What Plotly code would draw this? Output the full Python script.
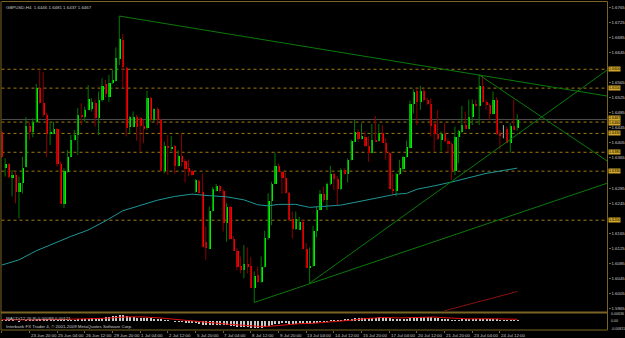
import plotly.graph_objects as go

W, H = 625, 338

# ---------------- data (GBPUSD H4) ----------------
opens = [1.6435,1.6340,1.6349,1.6314,1.6320,1.6276,1.6300,1.6342,1.6452,1.6435,
         1.6461,1.6552,1.6511,1.6479,1.6429,1.6430,1.6442,1.6351,1.6245,1.6329,
         1.6370,1.6414,1.6426,1.6479,1.6476,1.6494,1.6495,1.6511,1.6472,1.6519,
         1.6561,1.6527,1.6565,1.6570,1.6629,1.6680,1.6605,1.6448,1.6448,1.6474,
         1.6473,1.6450,1.6446,1.6525,1.6466,1.6497,1.6466,1.6333,1.6399,1.6392,
         1.6397,1.6344,1.6371,1.6357,1.6339,1.6331,1.6276,1.6305,1.6276,1.6143,
         1.6126,1.6227,1.6280,1.6291,1.6280,1.6194,1.6236,1.6152,1.6121,1.6079,
         1.6070,1.6086,1.6079,1.6022,1.6055,1.6037,1.6077,1.6154,1.6251,1.6298,
         1.6346,1.6329,1.6314,1.6273,1.6205,1.6179,1.6176,1.6196,1.6126,1.6075,
         1.6079,1.6174,1.6229,1.6271,1.6254,1.6298,1.6324,1.6311,1.6285,1.6335,
         1.6324,1.6360,1.6408,1.6435,1.6417,1.6423,1.6397,1.6379,1.6414,1.6411,
         1.6432,1.6407,1.6379,1.6285,1.6280,1.6323,1.6338,1.6368,1.6393,1.6508,
         1.6545,1.6514,1.6545,1.6519,1.6508,1.6457,1.6430,1.6414,1.6429,1.6411,
         1.6404,1.6333,1.6422,1.6435,1.6454,1.6444,1.6476,1.6510,1.6503,1.6558,
         1.6514,1.6507,1.6483,1.6519,1.6430,1.6426,1.6444,1.6406,1.6452,1.6446]
highs = [1.6439,1.6364,1.6351,1.6333,1.6329,1.6316,1.6368,1.6473,1.6461,1.6470,
         1.6561,1.6600,1.6592,1.6485,1.6457,1.6461,1.6444,1.6355,1.6338,1.6386,
         1.6426,1.6439,1.6497,1.6510,1.6501,1.6558,1.6523,1.6519,1.6541,1.6576,
         1.6572,1.6585,1.6598,1.6658,1.6741,1.6693,1.6607,1.6476,1.6488,1.6479,
         1.6474,1.6466,1.6543,1.6527,1.6497,1.6499,1.6468,1.6408,1.6426,1.6423,
         1.6399,1.6386,1.6429,1.6362,1.6361,1.6335,1.6309,1.6307,1.6324,1.6183,
         1.6236,1.6289,1.6296,1.6293,1.6283,1.6245,1.6238,1.6157,1.6126,1.6104,
         1.6134,1.6128,1.6102,1.6064,1.6077,1.6104,1.6172,1.6271,1.6302,1.6379,
         1.6351,1.6331,1.6326,1.6275,1.6223,1.6223,1.6209,1.6201,1.6139,1.6128,
         1.6185,1.6236,1.6280,1.6289,1.6300,1.6344,1.6326,1.6317,1.6338,1.6338,
         1.6364,1.6414,1.6466,1.6441,1.6457,1.6435,1.6422,1.6455,1.6476,1.6455,
         1.6452,1.6417,1.6382,1.6324,1.6326,1.6360,1.6370,1.6411,1.6517,1.6547,
         1.6549,1.6556,1.6549,1.6524,1.6523,1.6461,1.6492,1.6435,1.6458,1.6417,
         1.6406,1.6448,1.6439,1.6503,1.6488,1.6520,1.6520,1.6519,1.6585,1.6582,
         1.6519,1.6510,1.6541,1.6526,1.6439,1.6452,1.6448,1.6457,1.6520,1.6481]
lows = [1.6364,1.6316,1.6311,1.6263,1.6245,1.6205,1.6271,1.6340,1.6413,1.6420,
        1.6458,1.6509,1.6474,1.6368,1.6399,1.6428,1.6342,1.6243,1.6232,1.6326,
        1.6368,1.6411,1.6373,1.6452,1.6461,1.6492,1.6488,1.6448,1.6426,1.6514,
        1.6526,1.6514,1.6561,1.6567,1.6611,1.6549,1.6422,1.6430,1.6446,1.6411,
        1.6382,1.6404,1.6439,1.6461,1.6461,1.6452,1.6330,1.6324,1.6320,1.6384,
        1.6323,1.6342,1.6342,1.6300,1.6316,1.6318,1.6273,1.6271,1.6128,1.6095,
        1.6123,1.6223,1.6276,1.6273,1.6170,1.6143,1.6148,1.6119,1.6068,1.6059,
        1.6046,1.6059,1.6020,1.5982,1.6035,1.6034,1.6075,1.6148,1.6187,1.6296,
        1.6327,1.6270,1.6271,1.6199,1.6152,1.6174,1.6174,1.6123,1.6073,1.6033,
        1.6077,1.6155,1.6227,1.6249,1.6227,1.6293,1.6280,1.6240,1.6280,1.6320,
        1.6300,1.6358,1.6407,1.6408,1.6414,1.6395,1.6355,1.6377,1.6408,1.6408,
        1.6404,1.6360,1.6282,1.6267,1.6263,1.6320,1.6329,1.6366,1.6391,1.6483,
        1.6452,1.6492,1.6514,1.6505,1.6422,1.6382,1.6413,1.6384,1.6408,1.6377,
        1.6307,1.6320,1.6351,1.6432,1.6441,1.6441,1.6452,1.6501,1.6452,1.6511,
        1.6492,1.6466,1.6481,1.6426,1.6388,1.6417,1.6404,1.6379,1.6439,1.6437]
closes = [1.6368,1.6349,1.6316,1.6320,1.6276,1.6300,1.6340,1.6452,1.6435,1.6461,
          1.6552,1.6511,1.6479,1.6430,1.6435,1.6442,1.6351,1.6245,1.6331,1.6370,
          1.6414,1.6426,1.6479,1.6476,1.6494,1.6523,1.6514,1.6472,1.6519,1.6558,
          1.6536,1.6565,1.6572,1.6632,1.6682,1.6607,1.6446,1.6474,1.6474,1.6448,
          1.6450,1.6444,1.6526,1.6466,1.6495,1.6466,1.6333,1.6399,1.6393,1.6395,
          1.6344,1.6371,1.6355,1.6338,1.6329,1.6320,1.6307,1.6273,1.6130,1.6128,
          1.6227,1.6285,1.6291,1.6278,1.6194,1.6236,1.6152,1.6121,1.6077,1.6070,
          1.6086,1.6077,1.6022,1.6053,1.6037,1.6077,1.6155,1.6251,1.6298,1.6346,
          1.6329,1.6314,1.6273,1.6202,1.6179,1.6205,1.6196,1.6126,1.6075,1.6081,
          1.6174,1.6229,1.6270,1.6254,1.6298,1.6323,1.6311,1.6285,1.6335,1.6324,
          1.6361,1.6410,1.6435,1.6417,1.6424,1.6397,1.6379,1.6414,1.6411,1.6432,
          1.6407,1.6379,1.6285,1.6280,1.6324,1.6340,1.6368,1.6395,1.6510,1.6541,
          1.6514,1.6545,1.6519,1.6510,1.6452,1.6429,1.6417,1.6429,1.6411,1.6404,
          1.6333,1.6423,1.6437,1.6454,1.6444,1.6476,1.6510,1.6503,1.6558,1.6514,
          1.6507,1.6483,1.6519,1.6430,1.6426,1.6426,1.6406,1.6452,1.6441,1.6467]

# moving average (read at selected bars)
ma_bars = [0,5,10,15,20,25,30,35,40,45,50,55,60,65,70,74,77,80,85,89,92,98,103,110,114,117,120,125,130,140,149]
ma_vals = [1.6081,1.6095,1.6119,1.6139,1.6157,1.6174,1.6198,1.6225,1.6238,1.6253,1.6263,1.6269,1.6265,1.6262,1.6254,
           1.6241,1.6238,1.6242,1.6242,1.6234,1.6236,1.6240,1.6249,1.6263,1.6269,1.6271,1.6282,1.6291,1.6301,1.6324,1.6338]

# MACD histogram and signal
macd_hist = [0.0006,0.0005,0.0003,0.0002,0.0000,-0.0002,0.0000,0.0005,0.0008,0.0010,
             0.0015,0.0020,0.0022,0.0022,0.0020,0.0020,0.0016,0.0010,0.0007,0.0006,
             0.0008,0.0010,0.0015,0.0018,0.0020,0.0025,0.0028,0.0028,0.0030,0.0035,
             0.0038,0.0042,0.0046,0.0052,0.0060,0.0060,0.0050,0.0042,0.0038,0.0034,
             0.0030,0.0026,0.0028,0.0026,0.0023,0.0020,0.0012,0.0008,0.0004,0.0000,
             -0.0004,-0.0006,-0.0008,-0.0012,-0.0016,-0.0020,-0.0022,-0.0025,-0.0035,-0.0042,
             -0.0044,-0.0042,-0.0040,-0.0038,-0.0042,-0.0042,-0.0046,-0.0050,-0.0056,-0.0060,
             -0.0060,-0.0062,-0.0068,-0.0070,-0.0070,-0.0066,-0.0060,-0.0050,-0.0040,-0.0030,
             -0.0026,-0.0022,-0.0022,-0.0026,-0.0028,-0.0026,-0.0024,-0.0026,-0.0030,-0.0030,
             -0.0024,-0.0016,-0.0010,-0.0006,-0.0002,0.0003,0.0006,0.0006,0.0010,0.0012,
             0.0016,0.0022,0.0028,0.0030,0.0032,0.0032,0.0032,0.0034,0.0034,0.0036,
             0.0035,0.0033,0.0026,0.0020,0.0018,0.0018,0.0020,0.0022,0.0032,0.0040,
             0.0042,0.0044,0.0044,0.0042,0.0036,0.0030,0.0026,0.0022,0.0018,0.0014,
             0.0006,0.0008,0.0008,0.0012,0.0012,0.0014,0.0018,0.0018,0.0024,0.0024,
             0.0022,0.0020,0.0022,0.0014,0.0010,0.0008,0.0006,0.0008,0.0008,0.0010]
sig_bars = [0,10,20,30,36,40,45,50,55,60,65,70,75,78,82,86,90,95,100,105,110,115,120,125,130,135,140,145,149]
sig_vals = [0.0008,0.0006,0.0013,0.0022,0.0036,0.0036,0.0028,0.0012,-0.0005,-0.0025,-0.0036,-0.0048,-0.0060,-0.0056,
            -0.0042,-0.0032,-0.0028,-0.0016,0.0000,0.0018,0.0030,0.0026,0.0030,0.0034,0.0024,0.0016,0.0018,0.0016,0.0012]
macd_axis_labels = ["0.00636", "0.00", "-0.00815"]
macd_axis_vals = [0.0063, 0.0, -0.0082]

hlines = [1.6600, 1.6550, 1.6460, 1.6430, 1.6380, 1.6330, 1.6200]
bid_price = 1.6467

trendlines = [  # (bar0, price0, bar1, price1)
    (34, 1.6741, 175, 1.6529),
    (138, 1.6585, 175, 1.6357),
    (89, 1.6033, 175, 1.6598),
    (73, 1.5982, 175, 1.6298),
]
red_line = (128, 1.5960, 149, 1.6011)

price_ticks = [round(1.5965 + 0.004 * k, 4) for k in range(21)]
time_bars = [0, 8, 16, 24, 32, 40, 48, 56, 64, 72, 80, 88, 96, 104, 112, 120, 128, 136, 144]
time_labels = ["22 Jun 2009", "23 Jun 20:00", "25 Jun 04:00", "26 Jun 12:00", "29 Jun 20:00",
               "1 Jul 04:00", "2 Jul 12:00", "5 Jul 20:00", "7 Jul 04:00", "8 Jul 12:00",
               "9 Jul 20:00", "13 Jul 04:00", "14 Jul 12:00", "15 Jul 20:00", "17 Jul 04:00",
               "20 Jul 12:00", "21 Jul 20:00", "23 Jul 04:00", "24 Jul 12:00"]

# ---------------- styling ----------------
BG = "#000000"
FRAME = "#7A6424"
TXT = "#C8C8C8"
UP_BODY, UP_WICK = "#00F000", "#007A00"
DN_BODY, DN_WICK = "#F80000", "#8C0000"
TREND = "#0A7A0A"
MA_COL = "#1E9696"
HL_COL = "#A07A10"
BOX_COL = "#D2A82A"
FONT = "Liberation Sans"
FS = 4.4
PRICE_PER_PX = 0.000265

def px_x(p):
    return p / W

def px_y(p):
    return 1 - p / H

fig = go.Figure()

n = len(opens)
idx = list(range(n))

# wicks
for up, col in ((True, UP_WICK), (False, DN_WICK)):
    xs, ys = [], []
    for i in idx:
        if (closes[i] > opens[i]) == up and closes[i] != opens[i]:
            xs += [i, i, None]
            ys += [lows[i], highs[i], None]
    fig.add_trace(go.Scatter(x=xs, y=ys, mode="lines", line=dict(color=col, width=1),
                             hoverinfo="skip", showlegend=False))
# doji
xs, ys = [], []
for i in idx:
    if closes[i] == opens[i]:
        xs += [i, i, None]
        ys += [lows[i], highs[i], None]
fig.add_trace(go.Scatter(x=xs, y=ys, mode="lines", line=dict(color="#B0B0B0", width=1),
                         hoverinfo="skip", showlegend=False))

# bodies
MINB = 0.00012
for up, col in ((True, UP_BODY), (False, DN_BODY)):
    bx, bb, bh = [], [], []
    for i in idx:
        if closes[i] == opens[i]:
            continue
        if (closes[i] > opens[i]) == up:
            lo = min(opens[i], closes[i])
            hgt = max(abs(closes[i] - opens[i]), MINB)
            bx.append(i); bb.append(lo); bh.append(hgt)
    fig.add_trace(go.Bar(x=bx, y=bh, base=bb, width=0.62, marker=dict(color=col, line=dict(width=0)),
                         hoverinfo="skip", showlegend=False))

# moving average
fig.add_trace(go.Scatter(x=ma_bars, y=ma_vals, mode="lines", line=dict(color=MA_COL, width=1),
                         hoverinfo="skip", showlegend=False))

# trendlines
for (b0, p0, b1, p1) in trendlines:
    fig.add_trace(go.Scatter(x=[b0, b1], y=[p0, p1], mode="lines", line=dict(color=TREND, width=1),
                             hoverinfo="skip", showlegend=False))
fig.add_trace(go.Scatter(x=[red_line[0], red_line[2]], y=[red_line[1], red_line[3]], mode="lines",
                         line=dict(color="#8C1010", width=1), hoverinfo="skip", showlegend=False))

# MACD
fig.add_trace(go.Bar(x=idx, y=macd_hist, width=0.3, marker=dict(color="#C8C8C8", line=dict(width=0)),
                     xaxis="x2", yaxis="y2", hoverinfo="skip", showlegend=False))
fig.add_trace(go.Scatter(x=sig_bars, y=sig_vals, mode="lines", line=dict(color="#E01010", width=1),
                         xaxis="x2", yaxis="y2", hoverinfo="skip", showlegend=False))

XL, XR = 1.5, 607.5
MAIN_T, MAIN_B = 2.5, 311.5
MACD_T, MACD_B = 313.5, 329.5
xrange = [(XL - 1.67) / 3.46, (XR - 1.67) / 3.46]
yrange = [1.6765 - (MAIN_B - 7) * PRICE_PER_PX, 1.6765 - (MAIN_T - 7) * PRICE_PER_PX]

shapes = []
for hp in hlines:
    shapes.append(dict(type="line", xref="paper", yref="y", x0=px_x(XL), x1=px_x(XR), y0=hp, y1=hp,
                       line=dict(color=HL_COL, width=1, dash="dot"), layer="below"))
shapes.append(dict(type="line", xref="paper", yref="y", x0=px_x(XL), x1=px_x(XR), y0=bid_price, y1=bid_price,
                   line=dict(color="#505050", width=1), layer="below"))
# frame
for (x0, y0, x1, y1, wdt) in [(XL, 1.5, XR, 1.5, 1), (1.0, 1.5, 1.0, MACD_B + 0.5, 1),
                              (XR, 1.5, XR, MACD_B + 0.5, 1), (1.0, 312.4, XR, 312.4, 2),
                              (1.0, MACD_B + 0.5, XR, MACD_B + 0.5, 1)]:
    shapes.append(dict(type="line", xref="paper", yref="paper", x0=px_x(x0), x1=px_x(x1),
                       y0=px_y(y0), y1=px_y(y1), line=dict(color=FRAME, width=wdt)))

# right-axis tick labels, hidden where a price box covers them (as in the terminal)
boxes = hlines + [bid_price]
shown_ticks = [t for t in price_ticks if all(abs(t - b) / PRICE_PER_PX > 5 for b in boxes)]

annotations = []
annotations.append(dict(xref="paper", yref="paper", x=px_x(4), y=px_y(3), xanchor="left", yanchor="top",
                        text="GBPUSD,H4  1.6446 1.6481 1.6437 1.6467", showarrow=False,
                        font=dict(family=FONT, size=FS, color=TXT)))
annotations.append(dict(xref="paper", yref="paper", x=px_x(4), y=px_y(313.5), xanchor="left", yanchor="top",
                        text="MACD(12,26,9) 0.00099 0.00121", showarrow=False,
                        font=dict(family=FONT, size=FS, color=TXT)))
annotations.append(dict(xref="paper", yref="paper", x=px_x(4), y=px_y(321.5), xanchor="left", yanchor="top",
                        text="Interbank FX Trader 4, © 2001-2009 MetaQuotes Software Corp.", showarrow=False,
                        font=dict(family=FONT, size=FS, color=TXT)))
# label boxes; the two that sit 3 px apart are nudged so they just touch
box_shift_px = {bid_price: 1.9, 1.6460: -0.5}
for hp in boxes:
    yval = hp + box_shift_px.get(hp, 0.0) * PRICE_PER_PX
    annotations.append(dict(xref="paper", yref="y", x=px_x(XR + 0.5), y=yval, xanchor="left", yanchor="middle",
                            text=f"{hp:.4f}", showarrow=False, bgcolor=BOX_COL, borderpad=0,
                            font=dict(family=FONT, size=3.7, color="#000000")))
for b, t in zip(time_bars, time_labels):
    annotations.append(dict(xref="x2", yref="paper", x=b - 0.2, y=px_y(331), xanchor="left", yanchor="top",
                            text=t, showarrow=False, font=dict(family=FONT, size=FS, color=TXT)))
for v, t in zip(macd_axis_vals, macd_axis_labels):
    annotations.append(dict(xref="paper", yref="y2", x=px_x(608.5), y=v, xanchor="left", yanchor="middle",
                            text=t, showarrow=False, font=dict(family=FONT, size=3.6, color=TXT)))

fig.update_layout(
    width=W, height=H, margin=dict(l=0, r=0, t=0, b=0),
    paper_bgcolor=BG, plot_bgcolor=BG, barmode="overlay", bargap=0,
    showlegend=False, shapes=shapes, annotations=annotations,
    xaxis=dict(domain=[px_x(XL), px_x(XR)], range=xrange, showgrid=False, zeroline=False,
               showticklabels=False, ticks="", anchor="y"),
    yaxis=dict(domain=[px_y(MAIN_B), px_y(MAIN_T)], range=yrange, side="right", showgrid=False,
               zeroline=False, tickvals=shown_ticks, ticktext=[f"{v:.4f}" for v in shown_ticks],
               ticks="outside", ticklen=2, tickcolor=FRAME, tickfont=dict(family=FONT, size=FS, color=TXT),
               anchor="x"),
    xaxis2=dict(domain=[px_x(XL), px_x(XR)], range=xrange, showgrid=False, zeroline=False,
                showticklabels=False, tickvals=time_bars, ticks="outside", ticklen=2, tickcolor=FRAME,
                anchor="y2"),
    yaxis2=dict(domain=[px_y(MACD_B), px_y(MACD_T)], range=[-0.0090, 0.0070], showgrid=False,
                zeroline=False, showticklabels=False, anchor="x2"),
)

fig.write_html("out.html")
